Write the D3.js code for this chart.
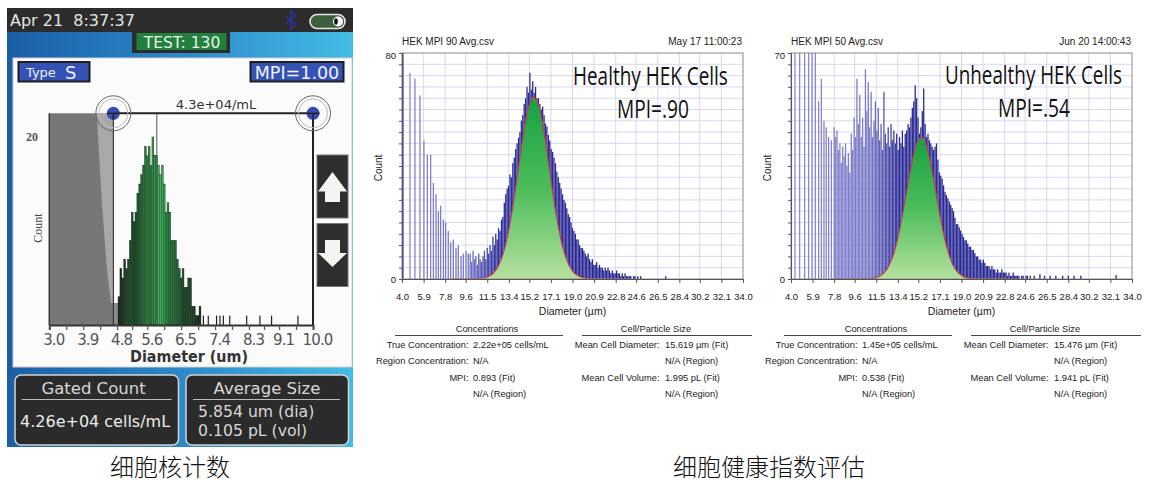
<!DOCTYPE html>
<html><head><meta charset="utf-8">
<script src="https://cdn.jsdelivr.net/npm/d3@7"></script>
<style>body{margin:0;background:#fff}svg{display:block}</style>
</head><body>
<script>
// ================= DATA =================
// Device (left) histogram
const deviceXTickLabels = ['3.0','3.9','4.8','5.6','6.5','7.4','8.3','9.1','10.0'];
const deviceBinStart = 4.85, deviceBinStep = 0.05;
const deviceCounts = [3,6,5,7,6,7,9,12, 11,12,14,15,16,17,19,18, 19,17,20,18,18,17,16,17, 15,12,13,12,9,9,9,7, 6,5,6,4,4,5,5,2, 2,1,1,2];
const deviceSpikeDiam = [7.09,7.22,7.44,7.53,7.62,7.79,8.24,8.59,8.90,9.60];
const deviceSpikeCount = [1,1,1,1,1,1,1,1,1,1];
const deviceGates = [4.7, 10.0];
const deviceMeanDiam = 5.854;

// Shared x tick labels for the two HEK charts
const xTickLabels = ['4.0','5.9','7.8','9.6','11.5','13.4','15.2','17.1','19.0','20.9','22.8','24.6','26.5','28.4','30.2','32.1','34.0'];

// Healthy HEK (MPI .90)
const healthySpikeDiam = [4.12,4.70,5.14,5.58,5.93,6.23,6.52,6.76,6.99,7.20,7.40,7.64,7.84,8.07,8.28,8.51,8.75,8.95,9.19,9.39,9.63,9.83,27.2];
const healthySpikeCount = [95,73,71,65,49,44,44,34,30,24,26,21,20,17,13,14,11,12,8,9,10,9,1];
const healthyBinStart = 10.0, healthyBinStep = 0.125;
const healthyCounts = [9,6,10,7,8,5,9,7, 6,8,10,7,11,9,12,10, 15,12,16,14,18,17,21,22, 27,30,32,33,37,36,41,43,
  46,48,50,52,56,58,62,64, 68,66,73,67,70,66,68,64, 64,62,60,61,58,55,54,51, 49,46,45,43,41,38,36,34,
  32,30,28,27,25,23,22,20, 18,17,16,14,14,12,11,11, 10,9,8,9,7,6,7,5, 5,6,4,5,4,4,3,4,
  3,4,3,2,3,2,2,3, 2,2,1,2,1,2,1,1, 1,1,0,1,1,0,1,0, 1];
const healthyFitDiam = [8.4,10,11,11.5,12,12.5,13,13.5,14,14.5,15,15.5,16,16.5,17,17.5,18,18.5,19,19.5,20,20.5,21,22.9];
const healthyFitCount = [0,0,0.2,0.7,1.9,4.8,10.3,19.6,32.3,46.5,58.5,64.3,61.8,51.8,37.9,24.3,13.6,6.7,2.8,1.1,0.4,0.1,0,0];

// Unhealthy HEK (MPI .54)
const unhealthySpikeDiam = [4.35,4.76,5.20,5.55,5.85,6.14,6.43,6.67,6.90,7.10,7.31,7.55,25.4,25.9,26.3,26.8,27.3,27.9,28.4,28.9,29.5,32.6];
const unhealthySpikeCount = [90,90,90,90,90,90,55,62,49,47,44,43,1,1.5,1,1,1,1,1,1,1,1.2];
const unhealthyBinStart = 7.8, unhealthyBinStep = 0.125;
const unhealthyCounts = [47,44,46,40,42,36,41,38, 42,35,39,33,45,40,50,44, 62,48,57,44,50,41,65,52, 61,47,58,44,49,55,46,53,
  43,48,40,58,45,42,47,41, 48,43,46,42,45,40,44,42, 46,41,45,46,48,47,50,53, 55,60,56,50,45,47,52,59,
  48,44,45,43,42,41,40,41, 42,37,33,32,31,29,27,26, 25,24,23,22,21,19,17,17, 16,15,14,13,12,12,11,10,
  10,9,9,8,7,7,6,6, 5,6,5,4,4,4,3,4, 3,3,2,3,2,2,3,2, 2,2,1,2,1,1,2,1, 1,1,1,0,1,1,0,1, 1,0,1];
const unhealthyFitDiam = [7.6,10,11,11.5,12,12.5,13,13.5,14,14.5,15,15.5,16,16.5,17,17.5,18,18.5,19,19.5,20,20.5,21,23.3];
const unhealthyFitCount = [0,0,0.1,0.4,1.3,3.3,7.4,14.3,23.6,33.6,41.4,43.9,40.1,31.7,21.6,12.7,6.4,2.8,1.1,0.3,0.1,0,0,0];

// Tables
const concLabels = ['True Concentration:','Region Concentration:','MPI:',''];
const sizeLabels = ['Mean Cell Diameter:','','Mean Cell Volume:',''];
const healthyConcValues = ['2.22e+05 cells/mL','N/A','0.893 (Fit)','N/A (Region)'];
const healthySizeValues = ['15.619 µm (Fit)','N/A (Region)','1.995 pL (Fit)','N/A (Region)'];
const unhealthyConcValues = ['1.45e+05 cells/mL','N/A','0.538 (Fit)','N/A (Region)'];
const unhealthySizeValues = ['15.476 µm (Fit)','N/A (Region)','1.941 pL (Fit)','N/A (Region)'];

// ================= DRAW =================
const FONT = "'Liberation Sans',Arial,sans-serif";
const DEV = "'DejaVu Sans',Verdana,sans-serif";
const svg = d3.select('body').append('svg').attr('width',1167).attr('height',491);
const defs = svg.append('defs');

function lg(id, attrs, stops){
  const g = defs.append('linearGradient').attr('id',id);
  Object.entries(attrs).forEach(([k,v])=>g.attr(k,v));
  stops.forEach(s=>g.append('stop').attr('offset',s[0]).attr('stop-color',s[1]));
}
lg('devBlue',{x1:0,y1:0,x2:1,y2:0},[[0,'#1b5ea6'],[0.5,'#2b88c9'],[1,'#44bce4']]);
lg('devGreen',{gradientUnits:'userSpaceOnUse',x1:118,y1:0,x2:200,y2:0},[[0,'#1a2b1c'],[0.3,'#226a35'],[0.5,'#3bbb5c'],[0.7,'#226a35'],[1,'#1a2b1c']]);
lg('fitGreen',{x1:0,y1:0,x2:0,y2:1},[[0,'#17a044'],[0.5,'#4cbc5a'],[1,'#b5e19f']]);

// ---------- Device panel ----------
const dev = svg.append('g');
dev.append('rect').attr('x',7).attr('y',8).attr('width',346).attr('height',439).attr('fill','url(#devBlue)');
dev.append('rect').attr('x',7).attr('y',8).attr('width',346).attr('height',24).attr('fill','#2c2c2c');
dev.append('text').attr('x',10).attr('y',26).attr('font-family',DEV).attr('font-size',16).attr('fill','#e4e4e4')
  .style('white-space','pre').text('Apr 21  8:37:37');
dev.append('path').attr('d','M286,16 L296,24.5 L291,29 L291,11 L296,15.5 L286,24').attr('fill','none').attr('stroke','#2a33a8').attr('stroke-width',1.4);
dev.append('rect').attr('x',310).attr('y',14.5).attr('width',35).attr('height',14).attr('rx',7).attr('fill','#3c5f3c').attr('stroke','#e6e6e6').attr('stroke-width',1.6);
dev.append('circle').attr('cx',338).attr('cy',21.5).attr('r',5).attr('fill','#fff');
dev.append('ellipse').attr('cx',336).attr('cy',21.5).attr('rx',1.8).attr('ry',3.2).attr('fill','#111');
dev.append('rect').attr('x',132).attr('y',31).attr('width',98).attr('height',22).attr('fill','#2c2c2c');
dev.append('rect').attr('x',136.5).attr('y',33).attr('width',90).attr('height',17).attr('fill','#22803f');
dev.append('text').attr('x',182).attr('y',48).attr('text-anchor','middle').attr('font-family',DEV).attr('font-size',15.5).attr('fill','#e6f2e6').text('TEST: 130');

dev.append('rect').attr('x',13).attr('y',58).attr('width',339).attr('height',309).attr('fill','#fbfbfb').attr('stroke','#d0d0d0');
dev.append('rect').attr('x',18.5).attr('y',62).attr('width',71).attr('height',19.5).attr('fill','#3452b4').attr('stroke','#1e1e1e').attr('stroke-width',2);
dev.append('text').attr('x',26).attr('y',77).attr('font-family',DEV).attr('font-size',13).attr('fill','#eef').text('Type');
dev.append('text').attr('x',65).attr('y',78.5).attr('font-family',DEV).attr('font-size',18).attr('fill','#eef').text('S');
dev.append('rect').attr('x',250.5).attr('y',62).attr('width',93).attr('height',19.5).attr('fill','#3452b4').attr('stroke','#1e1e1e').attr('stroke-width',2);
dev.append('text').attr('x',297).attr('y',78.5).attr('text-anchor','middle').attr('font-family',DEV).attr('font-size',17.5).attr('fill','#f2f2ff').text('MPI=1.00');

// device histogram
const xD = d3.scaleLinear().domain([3,10]).range([49.3,313]);
const yD = d3.scaleLinear().domain([0,20]).range([325,137]);
const gTop = 113.3, gL = xD(deviceGates[0]), gR = xD(deviceGates[1]);
dev.append('rect').attr('x',xD(3)).attr('y',gTop).attr('width',gL-xD(3)).attr('height',325-gTop).attr('fill','#777');
dev.append('polygon').attr('points',`96.7,${gTop} ${gL},${gTop} ${gL},303 111,303 106.7,267 101.7,200`).attr('fill','#a8a8a8');
dev.append('rect').attr('x',gL).attr('y',303).attr('width',6.7).attr('height',22).attr('fill','#8a8a8a');
const devBins = deviceCounts.map((c,i)=>({d:deviceBinStart+i*deviceBinStep,c}));
const bw = xD(deviceBinStep)-xD(0);
dev.append('g').selectAll('rect').data(devBins).join('rect')
  .attr('x',b=>xD(b.d)-bw/2).attr('width',bw).attr('y',b=>yD(b.c)).attr('height',b=>yD(0)-yD(b.c))
  .attr('fill','url(#devGreen)').attr('stroke','#0e1a10').attr('stroke-width',0.35);
dev.append('g').selectAll('rect').data(deviceSpikeDiam.map((d,i)=>({d,c:deviceSpikeCount[i]}))).join('rect')
  .attr('x',b=>xD(b.d)-0.6).attr('width',1.2).attr('y',b=>yD(b.c)).attr('height',b=>yD(0)-yD(b.c)).attr('fill','#222');
dev.append('line').attr('x1',xD(deviceMeanDiam)).attr('x2',xD(deviceMeanDiam)).attr('y1',gTop).attr('y2',325).attr('stroke','#555').attr('stroke-width',1);
dev.append('line').attr('x1',xD(3)).attr('x2',xD(3)).attr('y1',gTop).attr('y2',325).attr('stroke','#333').attr('stroke-width',1.5);
dev.append('line').attr('x1',gL).attr('x2',gL).attr('y1',gTop).attr('y2',325).attr('stroke','#222').attr('stroke-width',1);
dev.append('line').attr('x1',gR).attr('x2',gR).attr('y1',gTop).attr('y2',325).attr('stroke','#222').attr('stroke-width',2);
dev.append('line').attr('x1',gL).attr('x2',gR).attr('y1',gTop).attr('y2',gTop).attr('stroke','#222').attr('stroke-width',2);
const devTickVals = deviceXTickLabels.map(Number);
const devAllTicks = [];
devTickVals.forEach((v,i)=>{devAllTicks.push(v); if(i<devTickVals.length-1) devAllTicks.push((v+devTickVals[i+1])/2);});
const devAxis = dev.append('g').attr('transform','translate(0,325)')
  .call(d3.axisBottom(xD).tickValues(devAllTicks).tickFormat(d=>{const i=devTickVals.indexOf(d);return i>=0?deviceXTickLabels[i]:'';}).tickSize(5).tickPadding(4));
devAxis.select('.domain').attr('stroke','#333').attr('stroke-width',2);
devAxis.selectAll('line').attr('stroke','#555').attr('stroke-width',1.2);
devAxis.selectAll('text').attr('font-family',DEV).attr('font-size',15).attr('letter-spacing',-0.9).attr('fill','#555').attr('dx',4);
dev.append('text').attr('x',189).attr('y',362).attr('text-anchor','middle').attr('font-family',DEV).attr('font-weight','bold')
  .attr('font-size',15).attr('textLength',118).attr('lengthAdjust','spacingAndGlyphs').attr('fill','#333').text('Diameter (um)');
dev.append('text').attr('x',32).attr('y',141).attr('text-anchor','middle').attr('font-family','Liberation Serif').attr('font-size',12).attr('font-weight','bold').attr('fill','#555').text('20');
dev.append('text').attr('transform','translate(42,228) rotate(-90)').attr('text-anchor','middle').attr('font-family','Liberation Serif').attr('font-size',12).attr('fill','#444').text('Count');
// gate handles
[gL,gR].forEach(cx=>{
  dev.append('circle').attr('cx',cx).attr('cy',gTop).attr('r',17.5).attr('fill','none').attr('stroke','#666').attr('stroke-width',1);
  dev.append('circle').attr('cx',cx).attr('cy',gTop).attr('r',14.5).attr('fill','none').attr('stroke','#bbb').attr('stroke-width',1);
  dev.append('circle').attr('cx',cx).attr('cy',gTop).attr('r',6.5).attr('fill','#3a4ab4');
  dev.append('line').attr('x1',cx-6.5).attr('x2',cx+6.5).attr('y1',gTop).attr('y2',gTop).attr('stroke','#222').attr('stroke-width',1.5);
  dev.append('line').attr('x1',cx).attr('x2',cx).attr('y1',gTop).attr('y2',gTop+6.5).attr('stroke','#222').attr('stroke-width',1.5);
});
dev.append('text').attr('x',216).attr('y',109).attr('text-anchor','middle').attr('font-family',DEV).attr('font-size',13).attr('fill','#333').text('4.3e+04/mL');
// up/down buttons
dev.append('rect').attr('x',317).attr('y',155).attr('width',31).attr('height',63).attr('fill','#2e2e2e').attr('stroke','#777');
dev.append('rect').attr('x',317).attr('y',223.5).attr('width',31).attr('height',63).attr('fill','#2e2e2e').attr('stroke','#777');
dev.append('path').attr('d','M332.5,172 L347,191.5 L340,191.5 L340,202 L325,202 L325,191.5 L318,191.5 Z').attr('fill','#f4f4f0');
dev.append('path').attr('d','M332.5,267 L347,253 L340,253 L340,240 L325,240 L325,253 L318,253 Z').attr('fill','#f4f4f0');
// bottom boxes
[[15,163.5],[186,162.5]].forEach(b=>{
  dev.append('rect').attr('x',b[0]).attr('y',375).attr('width',b[1]).attr('height',70).attr('rx',6).attr('fill','#2b2b2b').attr('stroke','#d4d4d4').attr('stroke-width',1.5);
});
dev.append('line').attr('x1',21.7).attr('x2',171.7).attr('y1',399.5).attr('y2',399.5).attr('stroke','#bbb').attr('stroke-width',1.2);
dev.append('line').attr('x1',193).attr('x2',340).attr('y1',399.5).attr('y2',399.5).attr('stroke','#bbb').attr('stroke-width',1.2);
dev.append('text').attr('x',93.5).attr('y',394).attr('text-anchor','middle').attr('font-family',DEV).attr('font-size',16.5).attr('fill','#d8d8d8').text('Gated Count');
dev.append('text').attr('x',267).attr('y',394).attr('text-anchor','middle').attr('font-family',DEV).attr('font-size',16.5).attr('fill','#d8d8d8').text('Average Size');
dev.append('text').attr('x',20).attr('y',427).attr('font-family',DEV).attr('font-size',16).attr('fill','#ececec').text('4.26e+04 cells/mL');
dev.append('text').attr('x',198).attr('y',416.5).attr('font-family',DEV).attr('font-size',15.7).attr('fill','#d8d8d8').text('5.854 um (dia)');
dev.append('text').attr('x',198).attr('y',435.5).attr('font-family',DEV).attr('font-size',15.7).attr('fill','#d8d8d8').text('0.105 pL (vol)');

// big condensed label: natural text measured, then squeezed horizontally to the target width
function bigLabel(g, str, x, y, w){
  const gg = g.append('g');
  const t = gg.append('text').attr('x',0).attr('y',0).attr('font-family',"'Open Sans',sans-serif").attr('font-size',25).attr('fill','#111').text(str);
  const len = t.node().getComputedTextLength();
  gg.attr('transform',`translate(${x},${y}) scale(${w/len},1)`);
}

// ---------- HEK charts ----------
function drawChart(o){
  const g = svg.append('g');
  const x = d3.scaleLinear().domain([4,34]).range([o.L,o.R]);
  const y = d3.scaleLinear().domain([0,o.ymax]).range([279,53]);
  lg(o.id+'Blue',{gradientUnits:'userSpaceOnUse',x1:x(4),y1:0,x2:x(34),y2:0},
    o.blueStops.map(s=>[(s[0]-4)/30,s[1]]));
  const tickVals = xTickLabels.map(Number);
  g.append('rect').attr('x',o.L).attr('y',53).attr('width',o.R-o.L).attr('height',226).attr('fill','#fff');
  g.append('g').selectAll('line').data(tickVals.slice(1,-1)).join('line')
    .attr('x1',d=>x(d)).attr('x2',d=>x(d)).attr('y1',53).attr('y2',279).attr('stroke','#d4d4ef').attr('stroke-width',0.9);
  const yVals = d3.range(0,21).map(i=>i*o.ymax/20);
  g.append('g').selectAll('line').data(yVals.slice(1,-1)).join('line')
    .attr('x1',o.L).attr('x2',o.R).attr('y1',d=>y(d)).attr('y2',d=>y(d)).attr('stroke','#d4d4ef').attr('stroke-width',0.9);
  defs.append('clipPath').attr('id',o.id+'Clip').append('rect').attr('x',o.L).attr('y',53).attr('width',o.R-o.L).attr('height',226);
  const bars = g.append('g').attr('clip-path',`url(#${o.id}Clip)`);
  const spikes = o.spikeDiam.map((d,i)=>({d,c:o.spikeCount[i]}));
  const dense = o.counts.map((c,i)=>({d:o.binStart+i*o.binStep,c}));
  bars.append('g').selectAll('rect').data(spikes.concat(dense).filter(b=>b.c>0)).join('rect')
    .attr('x',b=>x(b.d)-0.65).attr('width',1.3).attr('y',b=>y(b.c)).attr('height',b=>y(0)-y(b.c))
    .attr('fill',`url(#${o.id}Blue)`);
  const fit = o.fitDiam.map((d,i)=>({d,c:o.fitCount[i]}));
  bars.append('path').datum(fit).attr('d',d3.area().x(p=>x(p.d)).y0(y(0)).y1(p=>y(p.c)).curve(d3.curveMonotoneX)).attr('fill','url(#fitGreen)');
  bars.append('path').datum(fit).attr('d',d3.line().x(p=>x(p.d)).y(p=>y(p.c)).curve(d3.curveMonotoneX))
    .attr('fill','none').attr('stroke','#d23a3a').attr('stroke-width',1.1);
  g.append('rect').attr('x',o.L).attr('y',53).attr('width',o.R-o.L).attr('height',226).attr('fill','none').attr('stroke','#8a8a8a');
  const xa = g.append('g').attr('transform','translate(0,279)')
    .call(d3.axisBottom(x).tickValues(tickVals).tickFormat((d,i)=>xTickLabels[i]).tickSize(4).tickPadding(10));
  xa.select('.domain').attr('stroke','#555');
  xa.selectAll('line').attr('stroke','#555');
  xa.selectAll('text').attr('font-family',FONT).attr('font-size',9.5).attr('fill','#222');
  const ya = g.append('g').attr('transform',`translate(${o.L},0)`)
    .call(d3.axisLeft(y).tickValues(yVals).tickFormat(d=>(d===0||d===o.ymax)?d:'').tickSize(3).tickPadding(3));
  ya.select('.domain').attr('stroke','#555');
  ya.selectAll('line').attr('stroke','#555');
  ya.selectAll('text').attr('font-family',FONT).attr('font-size',9.5).attr('fill','#222');
  ya.selectAll('.tick').filter(d=>d===o.ymax).select('text').attr('dy','0.62em');
  // titles
  g.append('text').attr('x',o.L).attr('y',45).attr('font-family',FONT).attr('font-size',10).attr('fill','#222').text(o.file);
  g.append('text').attr('x',o.R-1).attr('y',45).attr('text-anchor','end').attr('font-family',FONT).attr('font-size',10).attr('fill','#222').text(o.date);
  g.append('text').attr('transform',`translate(${o.L-20},168) rotate(-90)`).attr('text-anchor','middle').attr('font-family',FONT).attr('font-size',10).attr('fill','#222').text('Count');
  g.append('text').attr('x',(o.L+o.R)/2).attr('y',314.5).attr('text-anchor','middle').attr('font-family',FONT).attr('font-size',10.5).attr('fill','#222').text('Diameter (µm)');
  // big annotations
  bigLabel(g, o.big, o.bigX, o.bigY, o.bigW);
  bigLabel(g, o.mpi, o.mpiX, o.bigY+33, 72);
  // tables
  const dx = o.L-402;
  const t = g.append('g').attr('font-family',FONT).attr('font-size',9.3).attr('fill','#222');
  t.append('text').attr('x',487+dx).attr('y',332).attr('text-anchor','middle').text('Concentrations');
  t.append('text').attr('x',656+dx).attr('y',332).attr('text-anchor','middle').text('Cell/Particle Size');
  t.append('line').attr('x1',395+dx).attr('x2',563+dx).attr('y1',335.5).attr('y2',335.5).attr('stroke','#444');
  t.append('line').attr('x1',582+dx).attr('x2',752+dx).attr('y1',335.5).attr('y2',335.5).attr('stroke','#444');
  const rowsY = [347.5,364,380.5,397];
  concLabels.forEach((s,i)=>t.append('text').attr('x',468.5+dx).attr('y',rowsY[i]).attr('text-anchor','end').text(s));
  o.concValues.forEach((s,i)=>t.append('text').attr('x',473+dx).attr('y',rowsY[i]).text(s));
  sizeLabels.forEach((s,i)=>t.append('text').attr('x',659.5+dx).attr('y',rowsY[i]).attr('text-anchor','end').text(s));
  o.sizeValues.forEach((s,i)=>t.append('text').attr('x',665+dx).attr('y',rowsY[i]).text(s));
}

drawChart({id:'h',L:402,R:743,ymax:80,file:'HEK MPI 90 Avg.csv',date:'May 17 11:00:23',
  spikeDiam:healthySpikeDiam,spikeCount:healthySpikeCount,binStart:healthyBinStart,binStep:healthyBinStep,counts:healthyCounts,
  fitDiam:healthyFitDiam,fitCount:healthyFitCount,
  blueStops:[[4,'#8a8ad0'],[10,'#7474c4'],[12.5,'#2c2c9a'],[34,'#1e1e8a']],
  big:'Healthy HEK Cells',bigX:573,bigY:85,bigW:155,mpi:'MPI=.90',mpiX:617,
  concValues:healthyConcValues,sizeValues:healthySizeValues});
drawChart({id:'u',L:791,R:1132,ymax:70,file:'HEK MPI 50 Avg.csv',date:'Jun 20 14:00:43',
  spikeDiam:unhealthySpikeDiam,spikeCount:unhealthySpikeCount,binStart:unhealthyBinStart,binStep:unhealthyBinStep,counts:unhealthyCounts,
  fitDiam:unhealthyFitDiam,fitCount:unhealthyFitCount,
  blueStops:[[4,'#8c8cd2'],[11,'#7a7ac8'],[13.5,'#2c2c98'],[34,'#1e1e8a']],
  big:'Unhealthy HEK Cells',bigX:945,bigY:83.5,bigW:177,mpi:'MPI=.54',mpiX:998,
  concValues:unhealthyConcValues,sizeValues:unhealthySizeValues});

// captions
svg.append('text').attr('x',170).attr('y',476).attr('text-anchor','middle').attr('font-family',"'Noto Sans CJK SC'").attr('font-weight',300).attr('font-size',24).attr('fill','#111').text('细胞核计数');
svg.append('text').attr('x',769).attr('y',476).attr('text-anchor','middle').attr('font-family',"'Noto Sans CJK SC'").attr('font-weight',300).attr('font-size',24).attr('fill','#111').text('细胞健康指数评估');
</script>
</body></html>
